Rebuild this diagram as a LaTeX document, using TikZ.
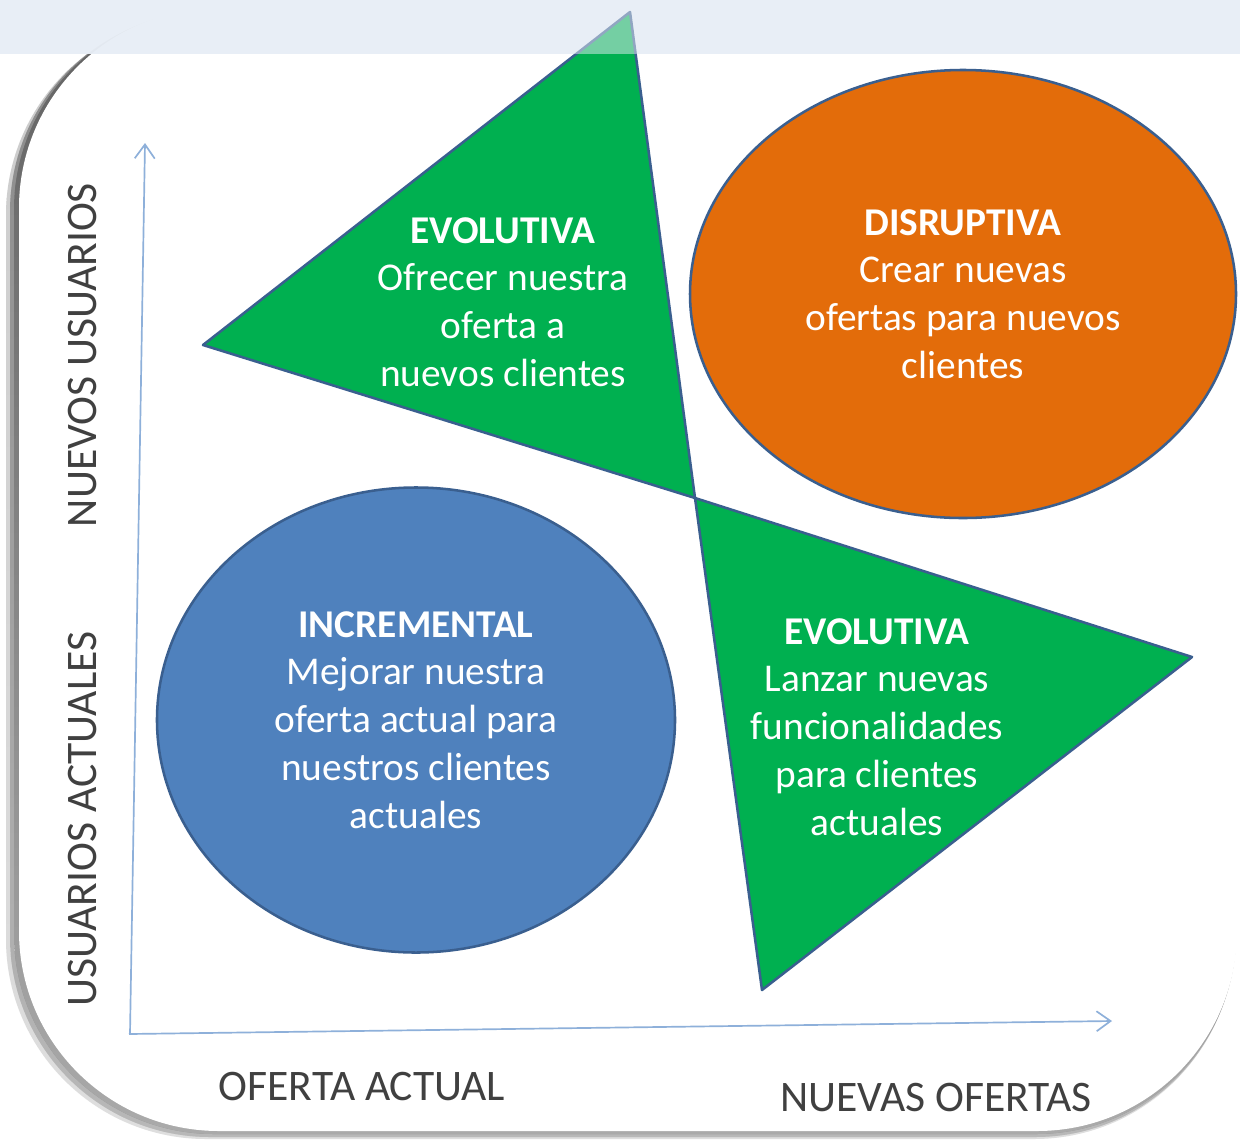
\documentclass[tikz,border=0pt]{standalone}
\usepackage{fontspec}
\setmainfont{Carlito}
\usetikzlibrary{arrows.meta,shapes.geometric}
\definecolor{band}{HTML}{E8EEF6}
\definecolor{shade}{HTML}{8C8C8C}
\definecolor{axis}{HTML}{8EB0DA}
\definecolor{edge}{HTML}{3A5F8F}
\definecolor{leaf}{HTML}{00B050}
\definecolor{ember}{HTML}{E36C0A}
\definecolor{sea}{HTML}{4F81BD}
\definecolor{label}{HTML}{404040}
\newcommand{\blurb}{\fontsize{28}{34}\selectfont}
\newcommand{\axisfont}{\fontsize{31}{36}\selectfont}
\tikzset{
  blob/.style={ellipse,draw=edge,line width=1.8pt,text=white,align=center,inner sep=0},
  wedge/.style={fill=leaf,draw=edge,line width=1.8pt,line join=round},
  wedgetext/.style={text=white,align=center,inner sep=0},
  axisline/.style={axis,line width=1.2pt,-{Straight Barb[length=3.5mm,width=5mm]}},
  axislabel/.style={text=label,font=\axisfont,inner sep=0}
}

\begin{document}
\begin{tikzpicture}[x=0.25mm,y=-0.25mm,font=\blurb]
\useasboundingbox (0,0) rectangle (1240,1139);
\fill[white] (0,0) rectangle (1240,1139);
\fill[shade,opacity=0.15,rounded corners=50mm] (6,15) rectangle (1234,1139);
\fill[shade,opacity=0.3,rounded corners=50mm] (10,12) rectangle (1235,1137);
\fill[shade,opacity=0.45,rounded corners=50mm] (14,10) rectangle (1236,1134);
\fill[white,rounded corners=50mm] (19,8) rectangle (1237,1131);
\fill[band,opacity=0.92] (0,0) rectangle (1240,54);
\coordinate (xstart) at (129,1034);
\coordinate (xtip) at (1112,1021);
\coordinate (ystart) at (130,1034);
\coordinate (ytip) at (145,143);
\draw[axisline] (xstart) -- (xtip);
\draw[axisline] (ystart) -- (ytip);
\coordinate (cross) at (695,498);
\coordinate (uptip) at (630,12);
\coordinate (upleft) at (203,345);
\coordinate (lowright) at (1192,657);
\coordinate (lowtip) at (762,990);
\draw[wedge] (uptip) -- (upleft) -- (cross) -- cycle;
\draw[wedge] (cross) -- (lowright) -- (lowtip) -- cycle;
\fill[band,opacity=0.5] (0,0) rectangle (1240,54);
\node[blob,fill=ember,minimum width=136.5mm,minimum height=112mm] (disruptiva) at (963,294) {\textbf{DISRUPTIVA}\\Crear nuevas\\ofertas para nuevos\\clientes};
\node[blob,fill=sea,minimum width=129.5mm,minimum height=116.25mm] (incremental) at (416,720) {\textbf{INCREMENTAL}\\Mejorar nuestra\\oferta actual para\\nuestros clientes\\actuales};
\node[wedgetext] (evolutivaup) at (503,302) {\textbf{EVOLUTIVA}\\Ofrecer nuestra\\oferta a\\nuevos clientes};
\node[wedgetext] (evolutivalow) at (877,727) {\textbf{EVOLUTIVA}\\Lanzar nuevas\\funcionalidades\\para clientes\\actuales};
\node[axislabel,rotate=90] (nuevosusuarios) at (83,355) {NUEVOS USUARIOS};
\node[axislabel,rotate=90] (usuariosactuales) at (83,819) {USUARIOS ACTUALES};
\node[axislabel] (ofertaactual) at (362,1087) {OFERTA ACTUAL};
\node[axislabel] (nuevasofertas) at (936,1097) {NUEVAS OFERTAS};
\end{tikzpicture}
\end{document}
